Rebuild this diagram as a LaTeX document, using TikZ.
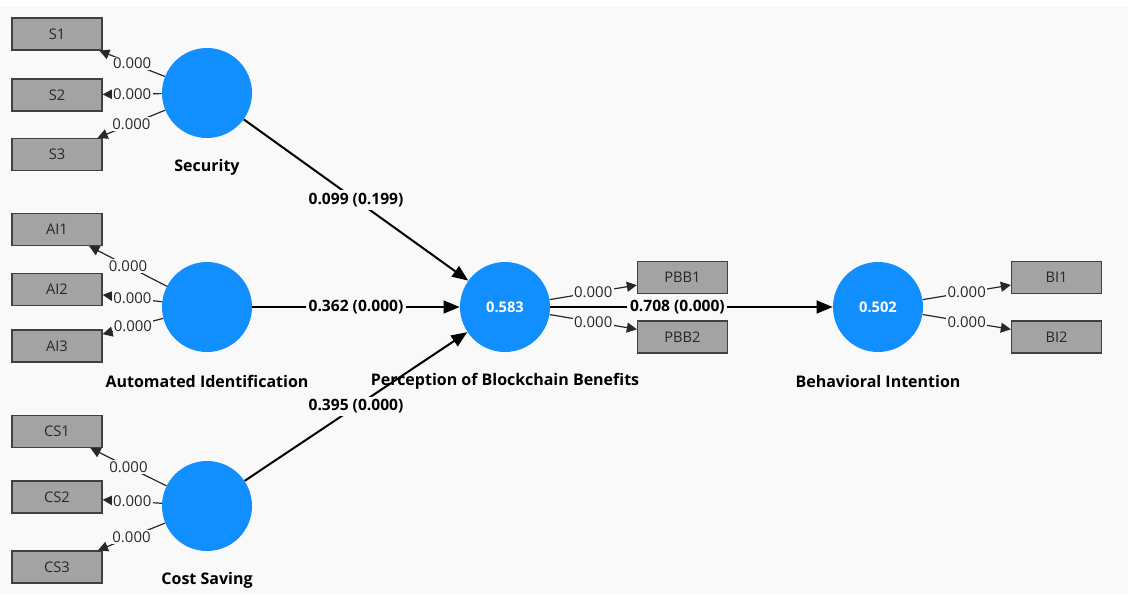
\documentclass[tikz,border=0pt]{standalone}
\usepackage{fontspec}
\setmainfont{Open Sans}
\usetikzlibrary{arrows.meta}
\definecolor{lvblue}{RGB}{18,143,255}
\definecolor{mvgray}{RGB}{163,163,163}
\definecolor{mvline}{RGB}{64,64,64}
\definecolor{canvas}{RGB}{249,249,249}
\definecolor{txtgray}{RGB}{40,40,40}

\begin{document}
\begin{tikzpicture}[x=0.75pt,y=0.75pt,yscale=-1,xscale=1,
    latent/.style={circle, fill=lvblue, draw=none, minimum size=67.5pt, inner sep=0pt, text=white, font=\bfseries\fontsize{11}{13}\selectfont},
    indicator/.style={rectangle, fill=mvgray, draw=mvline, line width=1pt, minimum width=67.5pt, minimum height=24pt, inner sep=0pt, text=txtgray, font=\fontsize{11}{13}\selectfont},
    lvname/.style={inner sep=0.75pt, text=black, font=\bfseries\fontsize{12}{14}\selectfont},
    loading/.style={draw=txtgray, line width=0.9pt, -{Triangle[length=7.5pt, width=7.5pt]}},
    path/.style={draw=black, line width=1.5pt, -{Triangle[length=12pt, width=9.5pt]}},
    weight/.style={fill=canvas, inner sep=1pt, text=txtgray, font=\fontsize{11.2}{13}\selectfont},
    coef/.style={fill=canvas, inner sep=2pt, text=black, font=\bfseries\fontsize{11.7}{14}\selectfont}
]
    \useasboundingbox (0,0) rectangle (1128,594);
    \fill[canvas] (0,7) rectangle (1128,594);

    % Latent variables
    \node[latent] (sec) at (207,93) {};
    \node[latent] (ai) at (207,307) {};
    \node[latent] (cs) at (207,506) {};
    \node[latent] (pbb) at (505,307) {0.583};
    \node[latent] (bi) at (878,307) {0.502};

    % Text Node
    \node[lvname] (secname) at (207,167) {Security};
    \node[lvname] (ainame) at (207,381) {Automated Identification};
    \node[lvname] (csname) at (207,580) {Cost Saving};
    \node[lvname] (pbbname) at (505,381) {Perception of Blockchain Benefits};
    \node[lvname] (biname) at (878,381) {Behavioral Intention};

    % Indicators
    \node[indicator] (s1) at (57,34) {S1};
    \node[indicator] (s2) at (57,95) {S2};
    \node[indicator] (s3) at (57,154.5) {S3};
    \node[indicator] (ai1) at (57,229.5) {AI1};
    \node[indicator] (ai2) at (57,289.5) {AI2};
    \node[indicator] (ai3) at (57,346) {AI3};
    \node[indicator] (cs1) at (57,431.5) {CS1};
    \node[indicator] (cs2) at (57,497) {CS2};
    \node[indicator] (cs3) at (57,567) {CS3};
    \node[indicator] (pbb1) at (682.5,277.5) {PBB1};
    \node[indicator] (pbb2) at (682.5,337) {PBB2};
    \node[indicator] (bi1) at (1056.5,277.5) {BI1};
    \node[indicator] (bi2) at (1056.5,337) {BI2};

    % Outer loadings
    \foreach \lv/\mv in {sec/s1, sec/s2, sec/s3, ai/ai1, ai/ai2, ai/ai3, cs/cs1, cs/cs2, cs/cs3, pbb/pbb1, pbb/pbb2, bi/bi1, bi/bi2}
        \draw[loading] (\lv) -- node[weight] {0.000} (\mv);

    % Path coefficients
    \draw[path] (sec) -- node[coef] {0.099 (0.199)} (pbb);
    \draw[path] (ai) -- node[coef] {0.362 (0.000)} (pbb);
    \draw[path] (cs) -- node[coef] {0.395 (0.000)} (pbb);
    \draw[path] (pbb) -- node[coef, pos=0.45] {0.708 (0.000)} (bi);

\end{tikzpicture}
\end{document}
